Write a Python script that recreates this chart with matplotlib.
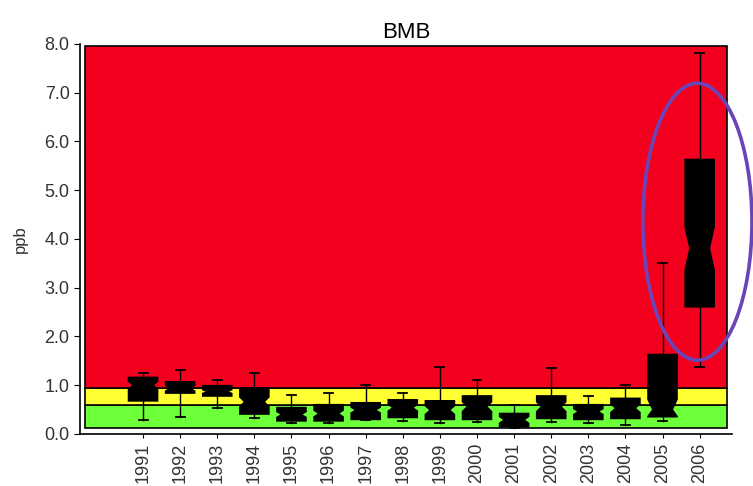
import numpy as np
import matplotlib
matplotlib.use('Agg')
from matplotlib import pyplot as plt
from matplotlib.patches import Rectangle, Ellipse
from matplotlib.path import Path

plt.rcParams['font.family'] = ['Liberation Sans', 'DejaVu Sans']

years = ['1991', '1992', '1993', '1994', '1995', '1996', '1997', '1998',
         '1999', '2000', '2001', '2002', '2003', '2004', '2005', '2006']
whislo = [0.29, 0.35, 0.53, 0.32, 0.22, 0.22, 0.29, 0.27,
          0.23, 0.25, 0.12, 0.25, 0.22, 0.19, 0.27, 1.38]
q1 = [0.68, 0.84, 0.78, 0.41, 0.27, 0.27, 0.30, 0.34,
      0.30, 0.30, 0.15, 0.32, 0.30, 0.32, 0.355, 2.61]
med = [1.00, 0.94, 0.87, 0.66, 0.40, 0.42, 0.49, 0.54,
       0.49, 0.56, 0.29, 0.56, 0.46, 0.53, 0.50, 3.81]
q3 = [1.16, 1.07, 0.99, 0.94, 0.54, 0.60, 0.64, 0.70,
      0.68, 0.78, 0.42, 0.78, 0.60, 0.73, 1.63, 5.63]
whishi = [1.25, 1.31, 1.11, 1.25, 0.80, 0.84, 1.00, 0.84,
          1.38, 1.11, 0.60, 1.35, 0.77, 1.00, 3.50, 7.81]
cilo = [0.92, 0.88, 0.83, 0.56, 0.34, 0.35, 0.43, 0.47,
        0.40, 0.46, 0.22, 0.46, 0.40, 0.44, 0.36, 3.36]
cihi = [1.08, 1.00, 0.91, 0.76, 0.46, 0.49, 0.55, 0.61,
        0.58, 0.66, 0.36, 0.66, 0.52, 0.62, 0.71, 4.25]

# threshold bands (ppb)
band_low = 0.12
green_top = 0.595
yellow_top = 0.94
band_high = 7.96

stats = []
for i in range(len(years)):
    stats.append(dict(label=years[i], whislo=whislo[i], q1=q1[i], med=med[i],
                      q3=q3[i], whishi=whishi[i], cilo=cilo[i], cihi=cihi[i],
                      fliers=[]))

fig = plt.figure(figsize=(7.53, 4.86), dpi=100)
ax = fig.add_axes([0.1062, 0.107, 0.8658, 0.8025])

x0, x1 = -0.57, 16.73
ax.add_patch(Rectangle((x0, band_low), x1 - x0, green_top - band_low,
                       facecolor='#6dff3a', edgecolor='black', lw=1.2, zorder=1))
ax.add_patch(Rectangle((x0, green_top), x1 - x0, yellow_top - green_top,
                       facecolor='#ffff33', edgecolor='black', lw=1.2, zorder=1))
ax.add_patch(Rectangle((x0, yellow_top), x1 - x0, band_high - yellow_top,
                       facecolor='#f2001d', edgecolor='black', lw=1.2, zorder=1))

pos = np.arange(1, len(years) + 1)
w = 0.78
bp = ax.bxp(stats, positions=pos, widths=w, shownotches=True, patch_artist=True,
            showfliers=False, capwidths=0.24,
            boxprops=dict(facecolor='black', edgecolor='black', lw=1.2),
            medianprops=dict(color='black', lw=1),
            whiskerprops=dict(color='black', lw=1),
            capprops=dict(color='black', lw=1.3), zorder=3)

# shallower notches than the matplotlib default (half width)
for p, box in zip(pos, bp['boxes']):
    v = box.get_path().vertices.copy()
    narrow = np.isclose(np.abs(v[:, 0] - p), w * 0.25)
    v[narrow, 0] = p + np.sign(v[narrow, 0] - p) * w * 0.33
    box.set_path(Path(v, box.get_path().codes))

ax.add_patch(Ellipse((15.94, 4.355), 2.94, 5.68, fill=False,
                     edgecolor='#6a45b8', lw=2.6, clip_on=False, zorder=5))

ax.set_xlim(-0.70, 16.87)
ax.set_ylim(0, 8.0)
ax.set_yticks(np.arange(0, 8.1, 1.0))
ax.set_yticklabels(['%.1f' % v for v in np.arange(0, 8.1, 1.0)])
ax.set_xticks(pos)
ax.set_xticklabels(years, rotation=90)
ax.tick_params(axis='both', labelcolor='#333333', direction='out')
ax.tick_params(axis='y', length=4, labelsize=13)
ax.tick_params(axis='x', length=3, labelsize=13)

for s in ['top', 'right']:
    ax.spines[s].set_visible(False)
ax.spines['left'].set_linewidth(1.2)
ax.spines['bottom'].set_linewidth(1.2)

ax.set_ylabel('ppb', fontsize=12, color='#333333', labelpad=12)
ax.set_title('BMB', fontsize=16, pad=4)

plt.savefig('out.png', dpi=100)
